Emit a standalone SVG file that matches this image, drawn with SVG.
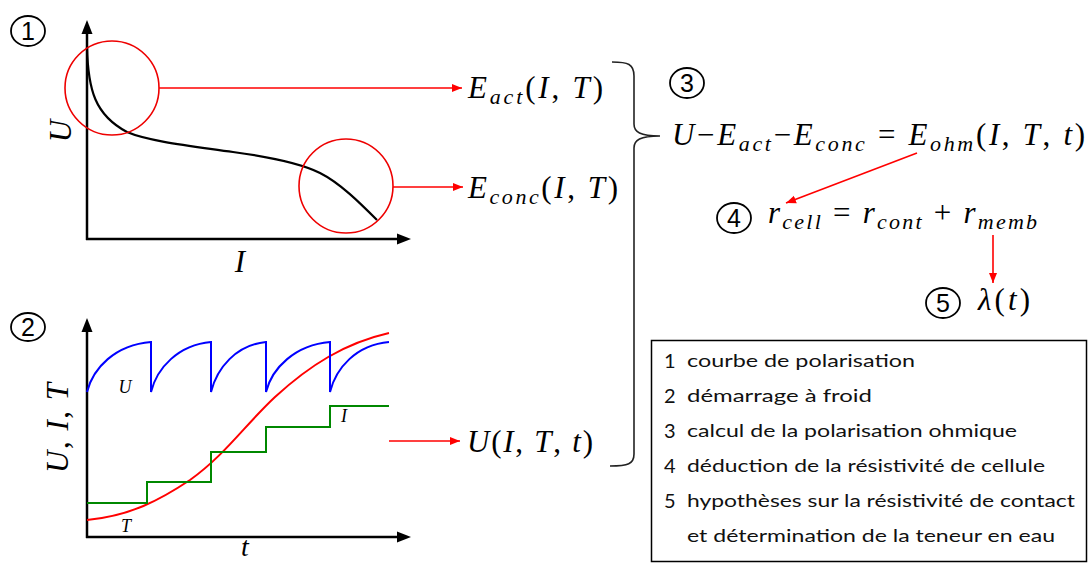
<svg xmlns="http://www.w3.org/2000/svg" width="1089" height="563" viewBox="0 0 1089 563">
<defs>
<style>
.ax{stroke:#000;stroke-width:2.5;fill:none}
.ah{fill:#000}
.red{stroke:#f00;stroke-width:1.6;fill:none}
.rc{stroke:#e00;stroke-width:1.6;fill:none}
.m{font-family:"Liberation Serif",serif;font-size:31px;font-weight:normal;fill:#000}
.i{font-style:italic}
.s{font-size:22px}
.num{stroke:#000;stroke-width:1.8;fill:none}
.nt{font-family:"Liberation Sans",sans-serif;font-size:25px;fill:#000;text-anchor:middle}
.lg{font-family:Lato,"Open Sans",sans-serif;font-size:18px;fill:#111}
.ln{font-family:Lato,"Open Sans",sans-serif;font-size:20px;fill:#111}
</style>
<marker id="ra" viewBox="0 0 10 10" refX="10" refY="5" markerWidth="10" markerHeight="10" markerUnits="userSpaceOnUse" orient="auto">
<path d="M0,1 L10,5 L0,9 Z" fill="#f00"/>
</marker>
</defs>
<rect width="1089" height="563" fill="#fff"/>

<g id="plot1">
<line class="ax" x1="87" y1="32" x2="87" y2="240"/>
<line class="ax" x1="86" y1="239" x2="400" y2="239"/>
<polygon class="ah" points="87,20 81.5,34 92.5,34"/>
<polygon class="ah" points="411,239 397,233.5 397,244.5"/>
<path d="M87,47 C88,90 95,115 127,132 C150,142 200,147 233,152 C270,157 300,163 320,173 C340,183 360,203 377,220" stroke="#000" stroke-width="2.2" fill="none"/>
<circle class="rc" cx="112" cy="88" r="47"/>
<circle class="rc" cx="346" cy="186" r="47"/>
<text class="m i" transform="translate(71,131) rotate(-90)" text-anchor="middle">U</text>
<text class="m i" x="240" y="272" text-anchor="middle">I</text>
<ellipse class="num" cx="28" cy="31" rx="17" ry="15"/>
<text class="nt" x="28" y="40">1</text>
</g>

<g id="plot2">
<line class="ax" x1="87" y1="330" x2="87" y2="538"/>
<line class="ax" x1="86" y1="537" x2="400" y2="537"/>
<polygon class="ah" points="87,318 81.5,332 92.5,332"/>
<polygon class="ah" points="411,537 397,531.5 397,542.5"/>
<path d="M87,520 C130,516 160,500 190,480 C225,455 245,425 275,397 C310,365 345,343 389,333" stroke="#f00" stroke-width="2" fill="none"/>
<path d="M87,503 H147 V482 H211 V452 H266 V427 H330 V406 H389" stroke="#080" stroke-width="2" fill="none"/>
<path d="M87,392 C93,368 115,345 151,342 V392 C157,368 178,345 211,342 V392 C217,368 236,345 266,342 V392 C272,368 295,345 330,342 V392 C336,368 356,345 389,342" stroke="#00f" stroke-width="2" fill="none"/>
<text class="m i" x="125" y="393" text-anchor="middle" style="font-size:18px">U</text>
<text class="m i" x="126" y="532" text-anchor="middle" style="font-size:18px">T</text>
<text class="m i" x="344" y="422" text-anchor="middle" style="font-size:18px">I</text>
<text class="m" transform="translate(68,428) rotate(-90)" text-anchor="middle" textLength="90" lengthAdjust="spacing"><tspan class="i">U</tspan>, <tspan class="i">I</tspan>, <tspan class="i">T</tspan></text>
<text class="m i" x="245" y="556" text-anchor="middle" style="font-size:28px">t</text>
<ellipse class="num" cx="28" cy="327" rx="17" ry="14"/>
<text class="nt" x="28" y="336">2</text>
</g>

<g id="eact">
<text class="m" x="468" y="98" textLength="135" lengthAdjust="spacing"><tspan class="i">E</tspan><tspan class="i s" dy="6">act</tspan><tspan dy="-6">(</tspan><tspan class="i">I</tspan>, <tspan class="i">T</tspan>)</text>
</g>
<g id="econc">
<text class="m" x="468" y="198" textLength="150" lengthAdjust="spacing"><tspan class="i">E</tspan><tspan class="i s" dy="6">conc</tspan><tspan dy="-6">(</tspan><tspan class="i">I</tspan>, <tspan class="i">T</tspan>)</text>
</g>
<g id="uitt">
<text class="m" x="467" y="452" textLength="126" lengthAdjust="spacing"><tspan class="i">U</tspan>(<tspan class="i">I</tspan>, <tspan class="i">T</tspan>, <tspan class="i">t</tspan>)</text>
</g>

<g id="brace">
<path d="M612,62 C628,62 634,64 634,76 V124 C634,132 640,136 660,136 C640,136 634,140 634,148 V454 C634,464 628,466 610,466" stroke="#222" stroke-width="1.6" fill="none"/>
</g>

<g id="step3">
<ellipse class="num" cx="687" cy="83" rx="17" ry="15"/>
<text class="nt" x="687" y="92">3</text>
<text class="m" x="672" y="145" textLength="413" lengthAdjust="spacing"><tspan class="i">U</tspan>−<tspan class="i">E</tspan><tspan class="i s" dy="6">act</tspan><tspan dy="-6">−</tspan><tspan class="i">E</tspan><tspan class="i s" dy="6">conc</tspan><tspan dy="-6"> = </tspan><tspan class="i">E</tspan><tspan class="i s" dy="6">ohm</tspan><tspan dy="-6">(</tspan><tspan class="i">I</tspan>, <tspan class="i">T</tspan>, <tspan class="i">t</tspan>)</text>
</g>

<g id="step4">
<ellipse class="num" cx="734" cy="218" rx="17" ry="15"/>
<text class="nt" x="734" y="227">4</text>
<text class="m" x="768" y="223" textLength="269" lengthAdjust="spacing"><tspan class="i">r</tspan><tspan class="i s" dy="6">cell</tspan><tspan dy="-6"> = </tspan><tspan class="i">r</tspan><tspan class="i s" dy="6">cont</tspan><tspan dy="-6"> + </tspan><tspan class="i">r</tspan><tspan class="i s" dy="6">memb</tspan></text>
</g>

<g id="step5">
<ellipse class="num" cx="943" cy="303" rx="17" ry="15"/>
<text class="nt" x="943" y="312">5</text>
<text class="m" x="978" y="310" textLength="52" lengthAdjust="spacing"><tspan class="i">λ</tspan>(<tspan class="i">t</tspan>)</text>
</g>

<g id="connectors">
<line class="red" x1="159" y1="88" x2="462" y2="88" marker-end="url(#ra)"/>
<line class="red" x1="393" y1="187" x2="463" y2="187" marker-end="url(#ra)"/>
<line class="red" x1="389" y1="441" x2="460" y2="441" marker-end="url(#ra)"/>
<line class="red" x1="917" y1="153" x2="786" y2="203" marker-end="url(#ra)"/>
<line class="red" x1="993" y1="235" x2="993" y2="283" marker-end="url(#ra)"/>
</g>

<g id="legend">
<rect x="651.5" y="340.5" width="435" height="221" fill="#fff" stroke="#000" stroke-width="1.5"/>
<text class="ln" x="664" y="368">1</text>
<text class="lg" x="687" y="367" textLength="228" lengthAdjust="spacingAndGlyphs">courbe de polarisation</text>
<text class="ln" x="664" y="403">2</text>
<text class="lg" x="687" y="402" textLength="185" lengthAdjust="spacingAndGlyphs">démarrage à froid</text>
<text class="ln" x="664" y="438">3</text>
<text class="lg" x="687" y="437" textLength="330" lengthAdjust="spacingAndGlyphs">calcul de la polarisation ohmique</text>
<text class="ln" x="664" y="473">4</text>
<text class="lg" x="687" y="472" textLength="358" lengthAdjust="spacingAndGlyphs">déduction de la résistivité de cellule</text>
<text class="ln" x="664" y="508">5</text>
<text class="lg" x="687" y="507" textLength="388" lengthAdjust="spacingAndGlyphs">hypothèses sur la résistivité de contact</text>
<text class="lg" x="687" y="542" textLength="368" lengthAdjust="spacingAndGlyphs">et détermination de la teneur en eau</text>
</g>
</svg>
